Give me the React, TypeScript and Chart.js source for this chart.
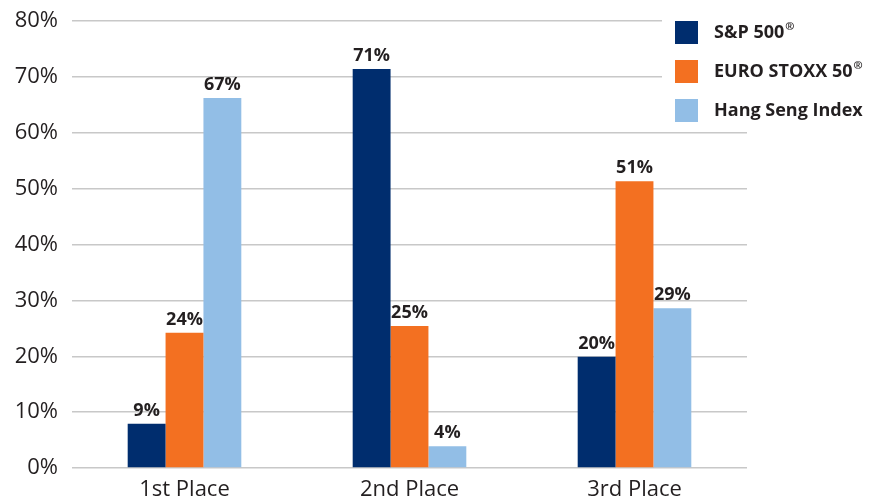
import React, { useEffect, useRef } from "react";
import { Chart, registerables } from "chart.js";

Chart.register(...registerables);

const categories = ["1st Place", "2nd Place", "3rd Place"];
const seriesNames = ["S&P 500®", "EURO STOXX 50®", "Hang Seng Index"];
const spValues = [7.9, 71.4, 19.9];
const euroValues = [24.2, 25.4, 51.3];
const hsiValues = [66.2, 3.9, 28.6];
const spLabels = ["9%", "71%", "20%"];
const euroLabels = ["24%", "25%", "51%"];
const hsiLabels = ["67%", "4%", "29%"];
const yTicks = [0, 10, 20, 30, 40, 50, 60, 70, 80];

const colors = ["#002D6E", "#F37021", "#92BEE6"];
const FONT = "'Open Sans', 'Noto Sans', sans-serif";
const TEXT = "#231F20";

const labelSets = [spLabels, euroLabels, hsiLabels];

const dataLabelPlugin = {
  id: "dataLabels",
  afterDatasetsDraw(chart: any) {
    const ctx = chart.ctx;
    ctx.save();
    ctx.font = `bold 18px ${FONT}`;
    ctx.fillStyle = TEXT;
    ctx.textAlign = "center";
    ctx.textBaseline = "bottom";
    chart.data.datasets.forEach((ds: any, i: number) => {
      const meta = chart.getDatasetMeta(i);
      meta.data.forEach((bar: any, j: number) => {
        ctx.fillText(labelSets[i][j], bar.x, bar.y - 4);
      });
    });
    ctx.restore();
  },
};

const legendPlugin = {
  id: "customLegend",
  afterDraw(chart: any) {
    const ctx = chart.ctx;
    ctx.save();
    ctx.fillStyle = "#ffffff";
    ctx.fillRect(662, 8, 220, 118);
    chart.data.datasets.forEach((ds: any, i: number) => {
      const y = 21 + i * 39;
      ctx.fillStyle = ds.backgroundColor;
      ctx.fillRect(675, y, 23, 23);
      const name: string = ds.label;
      const hasR = name.endsWith("®");
      const main = hasR ? name.slice(0, -1) : name;
      ctx.fillStyle = TEXT;
      ctx.textBaseline = "middle";
      ctx.textAlign = "left";
      ctx.font = `bold 18px ${FONT}`;
      ctx.fillText(main, 714, y + 12);
      if (hasR) {
        const w = ctx.measureText(main).width;
        ctx.font = `bold 11px ${FONT}`;
        ctx.fillText("®", 714 + w + 1, y + 6);
      }
    });
    ctx.restore();
  },
};

export default function App() {
  const ref = useRef<HTMLCanvasElement | null>(null);
  useEffect(() => {
    if (!ref.current) return;
    const chart = new Chart(ref.current, {
      type: "bar",
      data: {
        labels: categories,
        datasets: [spValues, euroValues, hsiValues].map((vals, i) => ({
          label: seriesNames[i],
          data: vals,
          backgroundColor: colors[i],
          borderWidth: 0,
          barPercentage: 1,
          categoryPercentage: 0.505,
        })),
      },
      options: {
        animation: false,
        responsive: false,
        maintainAspectRatio: false,
        layout: { padding: { top: 21, right: 135, left: 0, bottom: 0 } },
        plugins: { legend: { display: false }, tooltip: { enabled: false } },
        scales: {
          x: {
            grid: { display: false, drawTicks: false },
            border: { display: false },
            ticks: {
              color: TEXT,
              font: { family: FONT, size: 22 },
              padding: 9,
            },
            afterFit(scale: any) {
              scale.height = 36;
              scale.paddingLeft = 0;
              scale.paddingRight = 0;
            },
          },
          y: {
            min: 0,
            max: 80,
            afterBuildTicks(scale: any) {
              scale.ticks = yTicks.map((v) => ({ value: v }));
            },
            grid: { color: "#C8C8C8", lineWidth: 1.5, drawTicks: false },
            border: { display: false },
            ticks: {
              color: TEXT,
              font: { family: FONT, size: 22 },
              padding: 14,
              callback: (v: any) => `${v}%`,
            },
            afterFit(scale: any) {
              scale.width = 72;
              scale.paddingTop = 0;
              scale.paddingBottom = 0;
            },
          },
        },
      },
      plugins: [dataLabelPlugin, legendPlugin],
    });
    return () => chart.destroy();
  }, []);
  return (
    <div style={{ position: "fixed", left: 0, top: 0, width: 882, height: 504, background: "#fff" }}>
      <canvas ref={ref} width={882} height={504} style={{ width: 882, height: 504 }} />
    </div>
  );
}
